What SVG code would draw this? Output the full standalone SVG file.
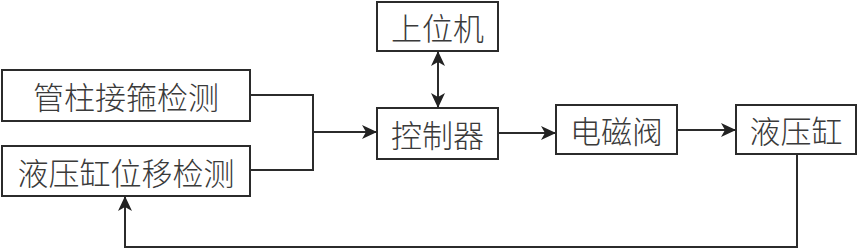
<svg xmlns="http://www.w3.org/2000/svg" width="858" height="250" viewBox="0 0 858 250">
<defs>
<style>
.box{fill:#fff;stroke:#2b2b2b;stroke-width:2}
.lbl{font-family:"Noto Sans CJK SC","Noto Sans",sans-serif;font-size:31px;fill:#3a3a3a;font-weight:300;text-anchor:middle;dominant-baseline:central}
.wire{fill:none;stroke:#2b2b2b;stroke-width:2}
</style>
<marker id="ah" viewBox="0 0 15 14" refX="15" refY="7" markerWidth="15" markerHeight="14" markerUnits="userSpaceOnUse" orient="auto-start-reverse">
<path d="M0,0 L15,7 L0,14 L4,7 Z" fill="#222"/>
</marker>
</defs>
<rect width="858" height="250" fill="#fff"/>
<g id="n-guanzhu"><rect class="box" x="2" y="70" width="248" height="51"/><text class="lbl" x="126" y="95">管柱接箍检测</text></g>
<g id="n-weiyi"><rect class="box" x="2" y="146" width="248" height="50"/><text class="lbl" x="126" y="171">液压缸位移检测</text></g>
<g id="n-shangwei"><rect class="box" x="377" y="2" width="121" height="49"/><text class="lbl" x="437.5" y="26.5">上位机</text></g>
<g id="n-kongzhi"><rect class="box" x="377" y="108" width="121" height="51"/><text class="lbl" x="437.5" y="133.5">控制器</text></g>
<g id="n-diancifa"><rect class="box" x="556" y="105" width="121" height="49"/><text class="lbl" x="616.5" y="129.5">电磁阀</text></g>
<g id="n-yeyagang"><rect class="box" x="736" y="105" width="120" height="49"/><text class="lbl" x="796" y="129.5">液压缸</text></g>
<g id="connectors">
<polyline class="wire" points="250,95 313,95 313,170 250,170"/>
<line class="wire" x1="313" y1="132" x2="377" y2="132" marker-end="url(#ah)"/>
<line class="wire" x1="438" y1="51" x2="438" y2="108" marker-start="url(#ah)" marker-end="url(#ah)"/>
<line class="wire" x1="498" y1="133" x2="556" y2="133" marker-end="url(#ah)"/>
<line class="wire" x1="677" y1="130" x2="736" y2="130" marker-end="url(#ah)"/>
<polyline class="wire" points="797,154 797,247 125,247 125,196" marker-end="url(#ah)"/>
</g>
</svg>
